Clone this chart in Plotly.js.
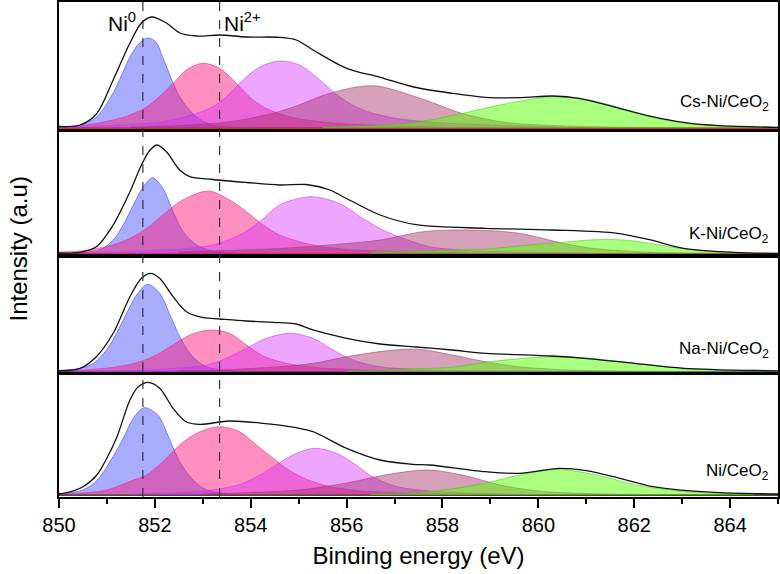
<!DOCTYPE html>
<html>
<head>
<meta charset="utf-8">
<script src="https://cdn.plot.ly/plotly-3.0.1.min.js"></script>
<style>
  html, body { margin: 0; padding: 0; background: #fff; }
  #chart { width: 780px; height: 574px; }
</style>
</head>
<body>
<div id="chart"></div>
<script>
// Ni 2p3/2 XPS fits, intensity in a.u.
// component order: Ni0, Ni2+, sat1, sat2, sat3 + envelope

const sampleNames = ['Ni/CeO<sub>2</sub>', 'Na-Ni/CeO<sub>2</sub>', 'K-Ni/CeO<sub>2</sub>', 'Cs-Ni/CeO<sub>2</sub>'];
const refEnergies = [851.75, 853.35];
const refLabels = ['Ni<sup>0</sup>', 'Ni<sup>2+</sup>'];

// ---- Cs-Ni/CeO2 ----
const csEnvX = [850.0, 850.44, 850.78, 851.13, 851.48, 851.72, 851.93, 852.24, 852.52, 852.87, 853.35, 853.91, 854.6, 854.95, 855.3, 856.0, 856.7, 857.4, 858.2, 858.9, 859.6, 860.3, 860.85, 861.69, 862.38, 863.07, 863.77, 865.0];
const csEnvY = [1.5, 3, 14, 48, 85, 105, 111, 105, 95, 92, 93, 91, 90.7, 88, 78, 59.7, 50.7, 41, 34.7, 30.7, 30.3, 32, 29.7, 19.7, 11.3, 5.3, 2.3, 0.7];
const csP1X = [850.0, 850.44, 850.78, 851.13, 851.48, 851.68, 851.85, 852.02, 852.17, 852.52, 852.87, 853.2, 853.6, 854.2];
const csP1Y = [1, 3, 11, 35, 71, 85, 90, 86, 70, 31, 11, 3, 1, 0];
const csP2X = [850.0, 850.44, 851.13, 851.48, 851.83, 852.17, 852.45, 852.65, 853.0, 853.35, 853.7, 854.05, 854.4, 854.95, 855.65, 856.7, 858.0];
const csP2Y = [1.5, 2.3, 8, 13, 21, 34.7, 48, 58, 64.7, 59.7, 44.7, 28, 18, 9.7, 5.3, 2.5, 1];
const csP3X = [850.0, 850.78, 851.83, 852.52, 853.2, 853.49, 853.84, 854.19, 854.6, 855.02, 855.44, 855.85, 856.34, 857.03, 857.73, 859.0, 860.5];
const csP3Y = [1, 2, 4.7, 9.7, 21, 31.3, 48, 61, 67, 63, 48, 31.3, 18, 9.7, 6, 3, 1];
const csP4X = [851.5, 852.52, 853.56, 854.47, 854.95, 855.65, 856.55, 857.52, 858.2, 858.4, 859.26, 860.3, 861.5, 863.0];
const csP4Y = [1, 2.5, 6.3, 14.7, 22, 34.7, 42.3, 30, 18, 14.7, 6, 2.5, 1, 0.3];
const csP5X = [855.5, 856.5, 857.5, 858.42, 859.3, 860.27, 861.0, 861.65, 862.34, 863.03, 863.7, 865.0];
const csP5Y = [1, 2.5, 6, 14.7, 24, 31.3, 28.5, 21, 11, 5, 2, 0.5];

// ---- K-Ni/CeO2 ----
const kEnvX = [850.0, 850.44, 850.78, 851.13, 851.48, 851.72, 851.9, 852.05, 852.24, 852.52, 852.73, 853.2, 853.91, 854.6, 855.16, 855.65, 856.0, 856.7, 857.45, 858.9, 860.27, 861.65, 862.34, 863.03, 864.08, 865.0];
const kEnvY = [0.5, 1.2, 6.8, 28.5, 61.8, 88.5, 103.5, 108.5, 101.8, 83.5, 76.8, 74, 71, 68.5, 69, 63.5, 55, 38.5, 28.8, 25.2, 23.5, 20.2, 13.5, 5.2, 1.2, 0.2];
const kP1X = [850.3, 850.85, 851.13, 851.34, 851.55, 851.76, 851.95, 852.17, 852.38, 852.59, 852.87, 853.2, 853.7];
const kP1Y = [0.5, 3.5, 13.5, 28.5, 48.5, 66.8, 75.8, 65, 41.8, 21.8, 8.5, 2.5, 0.5];
const kP2X = [850.0, 850.44, 851.13, 851.48, 851.83, 852.17, 852.52, 853.11, 853.56, 853.91, 854.26, 854.6, 855.3, 856.0, 857.0, 858.5];
const kP2Y = [1.5, 2.5, 8.5, 15.2, 25.2, 38.5, 51.8, 62.5, 53.5, 41.8, 28.5, 18.5, 8.5, 4, 2, 0.7];
const kP3X = [850.5, 851.5, 852.52, 853.2, 853.77, 854.19, 854.6, 855.26, 855.85, 856.34, 856.83, 857.38, 857.73, 858.5, 859.5, 861.0];
const kP3Y = [1, 2, 4.5, 8.5, 18.5, 31.8, 48.5, 56.8, 50, 35, 21.8, 11.8, 6.8, 3, 1.5, 0.5];
const kP4X = [852.5, 854.6, 856.0, 856.7, 857.6, 858.5, 859.6, 860.44, 861.0, 861.5, 862.5, 864.0];
const kP4Y = [1.5, 5, 10, 13.5, 21.8, 23.5, 20.2, 11, 6, 3.5, 1, 0.3];
const kP5X = [856.5, 857.5, 858.9, 859.8, 860.44, 861.3, 861.9, 862.34, 863.03, 863.6, 864.5];
const kP5Y = [1.5, 2.5, 4.5, 8.5, 11, 14, 13, 10, 4.5, 2, 0.5];

// ---- Na-Ni/CeO2 ----
const naEnvX = [850.0, 850.44, 850.78, 851.13, 851.48, 851.72, 851.91, 852.1, 852.38, 852.66, 853.01, 853.35, 853.91, 854.6, 854.95, 855.3, 856.0, 856.7, 857.45, 858.2, 858.9, 860.27, 860.97, 862.0, 863.03, 864.77, 865.0];
const naEnvY = [1, 3.4, 15, 38.4, 75, 93.4, 98.4, 93.4, 75, 60, 54, 52.7, 50.7, 49, 47.7, 41.7, 33.4, 27.7, 24.7, 21.7, 18.4, 15.7, 13.4, 8.4, 3.4, 1, 0.8];
const naP1X = [850.0, 850.44, 850.72, 850.99, 851.2, 851.41, 851.62, 851.85, 852.1, 852.3, 852.52, 852.73, 853.0, 853.35, 853.8];
const naP1Y = [1, 3.4, 8.4, 21.7, 38.4, 58.4, 76.7, 87.4, 78.4, 58.4, 35, 18.4, 6.7, 1.7, 0.5];
const naP2X = [850.0, 850.44, 851.13, 851.69, 852.03, 852.38, 852.73, 853.15, 853.56, 853.91, 854.26, 854.74, 855.3, 856.5, 858.0];
const naP2Y = [1, 1.5, 4.4, 10, 16.7, 26.7, 36.7, 41.7, 38.4, 26.7, 15.7, 8.4, 4.4, 1.5, 0.5];
const naP3X = [850.3, 851.3, 852.3, 853.08, 853.49, 853.91, 854.33, 854.81, 855.3, 855.72, 856.13, 856.69, 857.38, 858.5, 860.0];
const naP3Y = [0.5, 1, 3, 6.7, 13.4, 23.4, 33.4, 38.4, 33.4, 21.7, 11.7, 5, 2.5, 1, 0.3];
const naP4X = [852.5, 853.5, 854.6, 855.3, 856.0, 856.6, 857.2, 857.6, 858.2, 858.9, 859.6, 860.5, 862.0, 863.5];
const naP4Y = [1, 2, 5, 8.4, 15, 19.5, 22.4, 22, 16.7, 10, 5, 2, 0.5, 0.2];
const naP5X = [856.0, 857.0, 857.5, 858.2, 858.9, 859.6, 860.27, 860.9, 861.3, 862.0, 863.0, 864.0, 865.0];
const naP5Y = [0.7, 2, 3, 4.4, 9.5, 13, 15, 14, 12.4, 8.4, 3.4, 1, 0.3];

// ---- Ni/CeO2 ----
const niEnvX = [850.0, 850.09, 850.5, 850.79, 851.0, 851.2, 851.48, 851.65, 851.86, 852.1, 852.38, 852.65, 852.94, 853.56, 854.26, 854.95, 855.3, 856.0, 856.7, 857.38, 857.73, 858.9, 859.6, 860.44, 861.0, 861.7, 862.4, 863.1, 863.8, 865.0];
const niEnvY = [1.5, 1.7, 8.3, 20, 37, 57, 95, 108, 112.7, 106.7, 86.7, 73.3, 70.7, 74, 71.7, 67.3, 63.3, 46.7, 35, 30.7, 30, 23.3, 21.7, 26.7, 24.3, 16.7, 8.3, 4.3, 2.3, 1];
const niP1X = [850.0, 850.5, 850.8, 851.06, 851.34, 851.55, 851.78, 852.06, 852.27, 852.48, 852.69, 853.0, 853.5];
const niP1Y = [1, 5, 15, 33, 56.7, 76.7, 87.3, 80, 60, 36.7, 21, 7, 1];
const niP2X = [850.0, 850.5, 851.0, 851.5, 851.83, 852.17, 852.52, 852.87, 853.35, 853.77, 854.12, 854.47, 854.74, 855.1, 855.6, 856.2, 857.2, 858.5];
const niP2Y = [1, 2, 5, 14, 20, 33.3, 50, 61.7, 68.3, 63.3, 50, 36.7, 26.7, 17, 9, 4.5, 2, 0.7];
const niP3X = [851.5, 852.5, 853.2, 853.8, 854.19, 854.53, 854.88, 855.33, 855.79, 856.2, 856.48, 857.0, 857.5, 858.5, 860.0];
const niP3Y = [1, 2.5, 5, 11, 20, 30, 40, 46.7, 41.7, 30, 20, 9, 5, 2, 0.5];
const niP4X = [853.0, 854.0, 855.0, 856.0, 856.8, 857.7, 858.5, 859.2, 860.0, 861.0, 862.5];
const niP4Y = [1, 2.5, 5, 12, 20, 25, 19, 10, 4, 1.5, 0.4];
const niP5X = [856.5, 857.5, 858.2, 859.0, 859.6, 860.4, 861.0, 861.36, 862.05, 862.75, 863.45, 864.5];
const niP5Y = [1, 2.5, 6, 13, 20, 25.7, 22, 18.3, 10, 5, 2.3, 0.8];

// styles
const fills = [
  { fill: 'rgba(80,90,255,0.5)', line: 'rgba(70,80,230,0.8)' },
  { fill: 'rgba(255,20,120,0.48)', line: 'rgba(230,40,120,0.7)' },
  { fill: 'rgba(215,40,255,0.42)', line: 'rgba(190,60,230,0.7)' },
  { fill: 'rgba(165,45,105,0.45)', line: 'rgba(150,60,110,0.7)' },
  { fill: 'rgba(85,255,0,0.5)', line: 'rgba(70,200,20,0.7)' }
];
const baseColors = ['#3b5a1e', '#2f3fb8', '#c2401c', '#c2401c'];

const panels = [
  { env: [niEnvX, niEnvY], peaks: [[niP1X, niP1Y], [niP2X, niP2Y], [niP3X, niP3Y], [niP4X, niP4Y], [niP5X, niP5Y]], domain: [0, 0.2505], range: [-2, 122], labelY: 23 },
  { env: [naEnvX, naEnvY], peaks: [[naP1X, naP1Y], [naP2X, naP2Y], [naP3X, naP3Y], [naP4X, naP4Y], [naP5X, naP5Y]], domain: [0.2505, 0.4869], range: [-1.3, 115.7], labelY: 21.7 },
  { env: [kEnvX, kEnvY], peaks: [[kP1X, kP1Y], [kP2X, kP2Y], [kP3X, kP3Y], [kP4X, kP4Y], [kP5X, kP5Y]], domain: [0.4869, 0.7414], range: [-2.5, 123.5], labelY: 18.5 },
  { env: [csEnvX, csEnvY], peaks: [[csP1X, csP1Y], [csP2X, csP2Y], [csP3X, csP3Y], [csP4X, csP4Y], [csP5X, csP5Y]], domain: [0.7414, 1], range: [-2, 126], labelY: 25 }
];

const font = 'Liberation Sans, Arial, sans-serif';
const data = [];
const layout = {
  width: 780,
  height: 574,
  margin: { l: 59, r: 2, t: 2, b: 77 },
  paper_bgcolor: '#fff',
  plot_bgcolor: '#fff',
  showlegend: false,
  font: { family: font, size: 20, color: '#000' },
  shapes: [],
  annotations: []
};

panels.forEach((p, i) => {
  const sfx = i === 0 ? '' : String(i + 1);
  const xa = 'x' + sfx, ya = 'y' + sfx;

  p.peaks.forEach(([xs, ys], k) => {
    data.push({
      x: xs, y: ys, xaxis: xa, yaxis: ya,
      type: 'scatter', mode: 'lines', fill: 'tozeroy',
      fillcolor: fills[k].fill,
      line: { color: fills[k].line, width: 0.8, shape: 'spline', smoothing: 0.9 },
      hoverinfo: 'skip'
    });
  });
  data.push({
    x: p.env[0], y: p.env[1], xaxis: xa, yaxis: ya,
    type: 'scatter', mode: 'lines',
    line: { color: '#111', width: 1.3, shape: 'spline', smoothing: 0.9 },
    hoverinfo: 'skip'
  });

  layout['xaxis' + sfx] = {
    domain: [0, 1],
    range: [850, 865],
    anchor: ya,
    showline: true, mirror: true, linecolor: '#000', linewidth: 2,
    showgrid: false, zeroline: false,
    ticks: i === 0 ? 'outside' : '',
    showticklabels: i === 0,
    tick0: 850, dtick: 2,
    ticklen: 9, tickwidth: 2, tickcolor: '#000',
    tickfont: { size: 20, family: font, color: '#000' }
  };
  if (i === 0) {
    layout.xaxis.minor = { dtick: 1, ticks: 'outside', ticklen: 5, tickwidth: 2, tickcolor: '#000' };
    layout.xaxis.title = { text: 'Binding energy (eV)', font: { size: 24, family: font, color: '#000' }, standoff: 12 };
  } else {
    layout['xaxis' + sfx].matches = 'x';
  }

  layout['yaxis' + sfx] = {
    domain: p.domain,
    range: p.range,
    anchor: xa,
    showline: true, mirror: true, linecolor: '#000', linewidth: 2,
    showgrid: false, showticklabels: false, ticks: '',
    zeroline: true, zerolinecolor: baseColors[i], zerolinewidth: 1.5
  };

  layout.annotations.push({
    xref: xa, yref: ya, x: 864.85, y: p.labelY,
    xanchor: 'right', yanchor: 'middle',
    text: sampleNames[i], showarrow: false,
    font: { size: 17, family: font, color: '#000' }
  });
});

// dashed reference lines across all panels
refEnergies.forEach((e, k) => {
  layout.shapes.push({
    type: 'line', xref: 'x', yref: 'paper', x0: e, x1: e, y0: 0, y1: 1,
    line: { color: '#333', width: 1.2, dash: 'dash' }, layer: 'above'
  });
  layout.annotations.push({
    xref: 'x', yref: 'y4', x: k === 0 ? e - 0.1 : e + 0.05, y: 106,
    xanchor: k === 0 ? 'right' : 'left', yanchor: 'middle',
    text: refLabels[k], showarrow: false,
    font: { size: 21, family: font, color: '#000' }
  });
});

layout.annotations.push({
  xref: 'paper', yref: 'paper', x: -0.057, y: 0.5,
  xanchor: 'center', yanchor: 'middle', textangle: -90,
  text: 'Intensity (a.u)', showarrow: false,
  font: { size: 24, family: font, color: '#000' }
});

Plotly.newPlot('chart', data, layout, { staticPlot: true, displayModeBar: false });
</script>
</body>
</html>
